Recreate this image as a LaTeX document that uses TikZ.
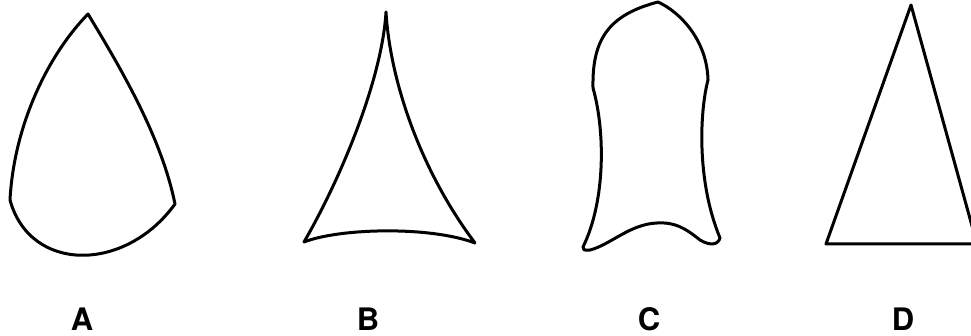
\documentclass[tikz,border=0pt]{standalone}
\usepackage{fontspec}
\setmainfont{TeX Gyre Heros}
\begin{document}
\begin{tikzpicture}[x=1pt,y=-1pt,
  outline/.style={draw=black,line width=3pt,line join=round,line cap=round},
  lab/.style={font=\fontsize{31}{31}\selectfont\bfseries,inner sep=0pt,anchor=center}]
\useasboundingbox (0,0) rectangle (971,336);
\begin{scope}
\clip (0,0) rectangle (971,336);
% A
\draw[outline] (88,14) .. controls (125,75) and (162,140) .. (175,204)
  .. controls (125,273) and (30,273) .. (10,200)
  .. controls (14,125) and (48,55) .. (88,14) -- cycle;
% B
\draw[outline] (386,12) .. controls (390,80) and (420,170) .. (475,243)
  .. controls (430,226) and (340,228) .. (304,242)
  .. controls (340,180) and (382,80) .. (386,12) -- cycle;
% C
\draw[outline] (658,2) .. controls (680,12) and (707,40) .. (708,80)
  .. controls (700,110) and (696,180) .. (720,238)
  .. controls (718,245) and (710,246) .. (700,240)
  .. controls (685,228) and (675,222) .. (657,223)
  .. controls (630,224) and (610,245) .. (590,250)
  .. controls (584,251) and (582,249) .. (583,247)
  .. controls (606,200) and (605,130) .. (593,88)
  .. controls (592,40) and (608,15) .. (658,2) -- cycle;
% D
\draw[outline] (911,5) -- (826,244) -- (977,244) -- cycle;
\end{scope}
\node[lab] (la) at (82,319) {A};
\node[lab] (lb) at (368,319) {B};
\node[lab] (lc) at (649,319) {C};
\node[lab] (ld) at (903,319) {D};
\end{tikzpicture}
\end{document}
